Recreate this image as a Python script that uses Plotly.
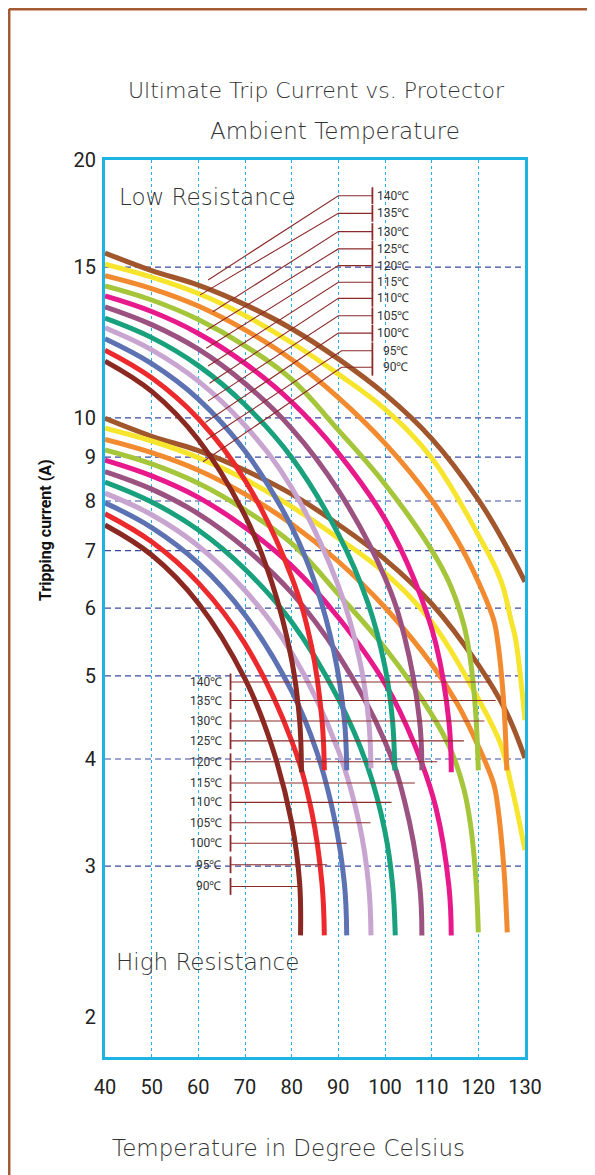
import math
import plotly.graph_objects as go

# ---------------- data ----------------
RATINGS = [90, 95, 100, 105, 110, 115, 120, 125, 130, 135, 140]
COLORS = ["#8b2822", "#ec2a2e", "#5d72b3", "#c8a5d0", "#19a07c", "#9c5281",
          "#e8198b", "#a5c53b", "#f28b30", "#f6e52c", "#a1562c"]

# Low resistance family (temperature degC, tripping current A)
LR90_T = [40, 50, 60, 70, 75.7, 80, 81.7, 82.1]
LR90_I = [11.65, 10.74, 9.43, 7.69, 6.44, 5.22, 4.44, 3.86]
LR95_T = [40, 50, 60, 70, 80, 84.3, 86.5, 87.0]
LR95_I = [12.0, 11.14, 9.98, 8.46, 6.52, 5.40, 4.44, 3.88]
LR100_T = [40, 50, 60, 70, 80, 85.3, 89.1, 91.3, 91.8]
LR100_I = [12.37, 11.57, 10.52, 9.15, 7.46, 6.35, 5.32, 4.44, 3.88]
LR105_T = [40, 50, 60, 70, 80, 90, 94.5, 96.5, 97.0]
LR105_I = [12.74, 12.01, 11.04, 9.80, 8.29, 6.37, 5.24, 4.44, 3.90]
LR110_T = [40, 50, 60, 70, 80, 90, 96.4, 100, 101.6, 102.1]
LR110_I = [13.08, 12.41, 11.51, 10.36, 8.99, 7.32, 6.07, 5.12, 4.44, 3.88]
LR115_T = [40, 50, 60, 70, 80, 90, 100, 104.2, 107.4, 107.9]
LR115_I = [13.48, 12.85, 12.03, 10.97, 9.72, 8.23, 6.51, 5.55, 4.44, 3.88]
LR120_T = [40, 50, 60, 70, 80, 90, 100, 106.4, 110.9, 113.7, 114.2]
LR120_I = [13.88, 13.31, 12.55, 11.58, 10.44, 9.10, 7.62, 6.45, 5.45, 4.42, 3.86]
LR125_T = [40, 50, 60, 70, 80, 90, 100, 110, 114.0, 116.9, 118.3, 119.4, 120.0]
LR125_I = [14.26, 13.73, 13.03, 12.14, 11.09, 9.68, 8.37, 7.01, 6.38, 5.73, 5.22, 4.56, 3.88]
LR130_T = [40, 50, 60, 70, 80, 90, 100, 110, 115.5, 120, 123.3, 124.1, 125.4, 126.1]
LR130_I = [14.66, 14.16, 13.51, 12.67, 11.70, 10.56, 9.34, 8.02, 7.20, 6.44, 5.81, 5.51, 4.69, 3.88]
LR135_T = [40, 50, 60, 70, 80, 90, 100, 110, 120, 124.8, 127.0, 128.0, 130]
LR135_I = [15.12, 14.60, 13.97, 13.17, 12.24, 11.25, 10.24, 8.98, 7.30, 6.47, 5.81, 5.51, 4.44]
LR140_T = [40, 50, 60, 70, 80, 90, 100, 110, 120, 125.9, 130]
LR140_I = [15.58, 14.86, 14.29, 13.56, 12.71, 11.72, 10.66, 9.46, 8.03, 7.10, 6.44]

# High resistance family
HR90_T = [40, 50, 60, 70, 75.7, 80, 81.7, 81.9]
HR90_I = [7.50, 6.92, 6.08, 4.96, 4.15, 3.37, 2.87, 2.49]
HR95_T = [40, 50, 60, 70, 80, 84.3, 86.5, 87.0]
HR95_I = [7.73, 7.17, 6.42, 5.45, 4.20, 3.47, 2.86, 2.49]
HR100_T = [40, 50, 60, 70, 80, 85.3, 89.1, 91.3, 91.8]
HR100_I = [7.96, 7.45, 6.77, 5.89, 4.80, 4.09, 3.42, 2.86, 2.49]
HR105_T = [40, 50, 60, 70, 80, 90, 94.5, 96.5, 97.0]
HR105_I = [8.17, 7.71, 7.09, 6.29, 5.32, 4.09, 3.36, 2.85, 2.49]
HR110_T = [40, 50, 60, 70, 80, 90, 96.4, 100, 101.6, 102.2]
HR110_I = [8.42, 7.98, 7.40, 6.66, 5.78, 4.70, 3.90, 3.29, 2.86, 2.49]
HR115_T = [40, 50, 60, 70, 80, 90, 100, 104.2, 107.4, 107.9]
HR115_I = [8.66, 8.26, 7.73, 7.05, 6.25, 5.29, 4.19, 3.57, 2.86, 2.49]
HR120_T = [40, 50, 60, 70, 80, 90, 100, 106.4, 110.9, 113.7, 114.2]
HR120_I = [8.93, 8.56, 8.08, 7.45, 6.72, 5.85, 4.90, 4.15, 3.51, 2.84, 2.49]
HR125_T = [40, 50, 60, 70, 80, 90, 100, 110, 114.0, 116.9, 118.3, 119.4, 120.0]
HR125_I = [9.18, 8.84, 8.39, 7.81, 7.14, 6.23, 5.39, 4.51, 4.11, 3.69, 3.36, 2.94, 2.51]
HR130_T = [40, 50, 60, 70, 80, 90, 100, 110, 115.5, 120, 123.3, 124.1, 125.4, 126.2]
HR130_I = [9.44, 9.11, 8.69, 8.15, 7.52, 6.80, 6.01, 5.16, 4.64, 4.14, 3.74, 3.54, 3.02, 2.51]
HR135_T = [40, 50, 60, 70, 80, 90, 100, 110, 120, 124.8, 127.0, 128.0, 130]
HR135_I = [9.73, 9.40, 8.99, 8.48, 7.88, 7.24, 6.59, 5.78, 4.70, 4.16, 3.74, 3.54, 3.13]
HR140_T = [40, 50, 60, 70, 80, 90, 100, 110, 120, 125.9, 130]
HR140_I = [9.99, 9.52, 9.16, 8.69, 8.15, 7.51, 6.84, 6.07, 5.15, 4.55, 4.01]

# Callouts, ordered 140 .. 90
CALLOUT_RATINGS = [140, 135, 130, 125, 120, 115, 110, 105, 100, 95, 90]
UP_LABEL_I = [18.17, 17.33, 16.50, 15.75, 15.06, 14.40, 13.79, 13.16, 12.56, 11.98, 11.46]
UP_TICK_T = 97.3
UP_TEXT_T = 105.6
UP_ELBOW_T = [90, 90, 90, 90, 90, 90, 90, 90, 90, 90.7, 90.7]
UP_END_T = [62.1, 60.4, 63.1, 61.7, 61.7, 62.1, 62.4, 62.1, 61.5, 61.7, 61.0]
UP_END_I = [14.49, 13.92, 13.30, 12.66, 12.06, 11.50, 10.98, 10.47, 9.88, 9.43, 8.89]

LOW_LABEL_I = [4.92, 4.68, 4.43, 4.20, 3.97, 3.75, 3.56, 3.37, 3.19, 3.01, 2.84]
LOW_TICK_T = 66.9
LOW_TEXT_T = 65.6
LOW_END_T = [122.4, 123.7, 121.3, 116.9, 111.2, 106.4, 101.4, 96.9, 91.8, 87.6, 82.0]

X_TICKS = [40, 50, 60, 70, 80, 90, 100, 110, 120, 130]
Y_TICKS = [2, 3, 4, 5, 6, 7, 8, 9, 10, 15, 20]
Y_DASHED = [3, 4, 5, 6, 7, 8, 9, 10, 15]   # dashed horizontal guide lines
X_MIN, X_MAX = 40, 130
Y_MIN = 1.796   # bottom edge of the plotting frame (below the "2" tick)
Y_MAX = 20

# ---------------- figure ----------------
LR = [(LR90_T, LR90_I), (LR95_T, LR95_I), (LR100_T, LR100_I), (LR105_T, LR105_I),
      (LR110_T, LR110_I), (LR115_T, LR115_I), (LR120_T, LR120_I), (LR125_T, LR125_I),
      (LR130_T, LR130_I), (LR135_T, LR135_I), (LR140_T, LR140_I)]
HR = [(HR90_T, HR90_I), (HR95_T, HR95_I), (HR100_T, HR100_I), (HR105_T, HR105_I),
      (HR110_T, HR110_I), (HR115_T, HR115_I), (HR120_T, HR120_I), (HR125_T, HR125_I),
      (HR130_T, HR130_I), (HR135_T, HR135_I), (HR140_T, HR140_I)]

fig = go.Figure()
LEADER = "#8c2a2a"

# dashed horizontal guides (drawn first, under the curves)
gx, gy = [], []
for v in Y_DASHED:
    gx += [X_MIN, X_MAX, None]
    gy += [v, v, None]
fig.add_trace(go.Scatter(x=gx, y=gy, mode="lines",
                         line=dict(color="#3a4aa0", width=1.2, dash="6px,4px"),
                         showlegend=False, hoverinfo="skip"))

for family, grp in ((HR, "High Resistance"), (LR, "Low Resistance")):
    for (t, i), r, c in reversed(list(zip(family, RATINGS, COLORS))):
        fig.add_trace(go.Scatter(
            x=t, y=i, mode="lines", name=f"{grp} {r}℃",
            line=dict(color=c, width=5, shape="spline", smoothing=1.1),
            showlegend=False, hoverinfo="skip"))

# upper leader lines
ux, uy = [], []
for lab_i, el_t, e_t, e_i in zip(UP_LABEL_I, UP_ELBOW_T, UP_END_T, UP_END_I):
    ux += [UP_TICK_T, el_t, e_t, None]
    uy += [lab_i, lab_i, e_i, None]
fig.add_trace(go.Scatter(x=ux, y=uy, mode="lines", line=dict(color=LEADER, width=1.1),
                         showlegend=False, hoverinfo="skip"))
# lower leader lines
lx, ly = [], []
for lab_i, e_t in zip(LOW_LABEL_I, LOW_END_T):
    lx += [LOW_TICK_T, e_t, None]
    ly += [lab_i, lab_i, None]
fig.add_trace(go.Scatter(x=lx, y=ly, mode="lines", line=dict(color=LEADER, width=1.1),
                         showlegend=False, hoverinfo="skip"))
# small vertical tick marks at the label columns
for tx, ys in ((UP_TICK_T, UP_LABEL_I), (LOW_TICK_T, LOW_LABEL_I)):
    fig.add_trace(go.Scatter(
        x=[tx] * len(ys), y=ys, mode="markers",
        marker=dict(symbol="line-ns", size=12, line=dict(color=LEADER, width=1.8)),
        showlegend=False, hoverinfo="skip"))

LABEL_FONT = dict(family="Roboto, sans-serif", size=12, color="#333333")
annotations = []
for r, yi in zip(CALLOUT_RATINGS, UP_LABEL_I):
    annotations.append(dict(x=UP_TEXT_T, y=math.log10(yi), xref="x", yref="y",
                            text=f"{r}℃", showarrow=False, xanchor="right",
                            yanchor="middle", font=LABEL_FONT))
for r, yi in zip(CALLOUT_RATINGS, LOW_LABEL_I):
    annotations.append(dict(x=LOW_TEXT_T, y=math.log10(yi), xref="x", yref="y",
                            text=f"{r}℃", showarrow=False, xanchor="right",
                            yanchor="middle", font=LABEL_FONT))

def tfont(size):
    return dict(family="DejaVu Sans, sans-serif", size=size, color="#333333", weight=300)

annotations += [
    dict(x=0.5024, y=1.078, xref="paper", yref="paper", showarrow=False,
         text="Ultimate Trip Current vs. Protector", font=tfont(22),
         xanchor="center", yanchor="middle"),
    dict(x=0.5476, y=1.0323, xref="paper", yref="paper", showarrow=False,
         text="Ambient Temperature", font=tfont(23), xanchor="center", yanchor="middle"),
    dict(x=0.438, y=-0.1014, xref="paper", yref="paper", showarrow=False,
         text="Temperature in Degree Celsius", font=tfont(23),
         xanchor="center", yanchor="middle"),
    dict(x=-0.1429, y=0.5875, xref="paper", yref="paper", showarrow=False,
         text="<b>Tripping current (A)</b>", textangle=-90,
         font=dict(family="Roboto, sans-serif", size=16, color="#111111"),
         xanchor="center", yanchor="middle"),
    dict(x=0.244, y=0.9588, xref="paper", yref="paper", showarrow=False,
         text="Low Resistance", font=tfont(23), xanchor="center", yanchor="middle"),
    dict(x=0.243, y=0.1059, xref="paper", yref="paper", showarrow=False,
         text="High Resistance", font=tfont(23), xanchor="center", yanchor="middle"),
]

FRAME = "#a65a32"
shapes = [
    dict(type="line", xref="paper", yref="paper", x0=-0.2286, x1=-0.2286, y0=-0.15, y1=1.1683,
         line=dict(color=FRAME, width=3)),
    dict(type="line", xref="paper", yref="paper", x0=-0.2286, x1=1.2, y0=1.1683, y1=1.1683,
         line=dict(color=FRAME, width=3)),
]

TICK_FONT = dict(family="Roboto, sans-serif", size=20, color="#222222")
fig.update_layout(
    width=595, height=1175,
    margin=dict(l=97, r=78, t=152, b=126, autoexpand=False),
    paper_bgcolor="white", plot_bgcolor="white",
    showlegend=False,
    annotations=annotations, shapes=shapes,
    xaxis=dict(range=[X_MIN, X_MAX], tickvals=X_TICKS, ticktext=[str(v) for v in X_TICKS],
               showgrid=True, gridcolor="#1fb4e8", gridwidth=1, griddash="dot",
               showline=True, linecolor="#1db3e3", linewidth=3, mirror=True,
               ticks="", ticklabelstandoff=10, tickfont=TICK_FONT, zeroline=False,
               automargin=False),
    yaxis=dict(type="log", range=[math.log10(Y_MIN), math.log10(Y_MAX)],
               tickvals=Y_TICKS, ticktext=[str(v) for v in Y_TICKS],
               showgrid=False,
               showline=True, linecolor="#1db3e3", linewidth=3, mirror=True,
               ticks="", ticklabelstandoff=2, tickfont=TICK_FONT, zeroline=False,
               automargin=False),
)

fig.write_html("out.html")
